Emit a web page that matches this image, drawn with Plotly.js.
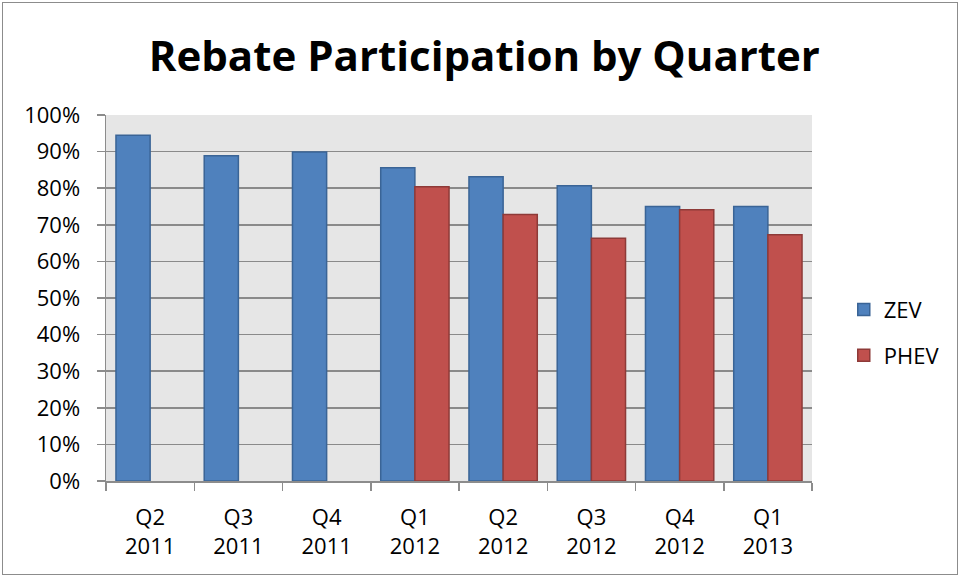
<!DOCTYPE html>
<html>
<head>
<meta charset="utf-8">
<script src="https://cdn.plot.ly/plotly-3.0.1.min.js"></script>
<style>
html,body{margin:0;padding:0;background:#fff;}
#wrap{position:relative;width:961px;height:578px;}
#chart{position:absolute;left:0;top:0;width:961px;height:578px;}
#frame{position:absolute;left:2px;top:2px;width:954px;height:571px;border:1.5px solid #8c8c8c;pointer-events:none;}
</style>
</head>
<body>
<div id="wrap"><div id="chart"></div><div id="frame"></div></div>
<script>
const categories = ["Q2<br>2011","Q3<br>2011","Q4<br>2011","Q1<br>2012","Q2<br>2012","Q3<br>2012","Q4<br>2012","Q1<br>2013"];
const zev  = [0.945, 0.889, 0.899, 0.856, 0.831, 0.807, 0.750, 0.750];
const phev = [null, null, null, 0.804, 0.728, 0.663, 0.741, 0.673];
const yTickVals = [0,0.1,0.2,0.3,0.4,0.5,0.6,0.7,0.8,0.9,1.0];
const yTickText = ["0%","10%","20%","30%","40%","50%","60%","70%","80%","90%","100%"];

const font = "Open Sans, Noto Sans, sans-serif";
const traces = [
  {type:"bar", name:"ZEV", x:categories, y:zev, legendgroup:"a",
   marker:{color:"#4f81bd", line:{color:"#3a6496", width:1.5}}},
  {type:"bar", name:"PHEV", x:categories, y:phev, legendgroup:"b",
   marker:{color:"#c0504d", line:{color:"#8e3a38", width:1.5}}}
];
const layout = {
  width:961, height:578,
  margin:{l:106, r:149, t:115, b:97},
  paper_bgcolor:"#ffffff", plot_bgcolor:"#e6e6e6",
  barmode:"group", bargap:0.226, bargroupgap:0,
  title:{text:"<b>Rebate Participation by Quarter</b>", x:0.504, xanchor:"center", y:0.903, yanchor:"middle",
         font:{family:"Open Sans, sans-serif", size:42, color:"#000"}},
  xaxis:{type:"category", showgrid:false, showline:true, linecolor:"#8c8c8c", linewidth:1.5,
         ticks:"outside", ticklen:8, tickcolor:"#8c8c8c", tickwidth:1.5, tickson:"boundaries",
         ticklabelstandoff:16,
         tickfont:{family:font, size:22, color:"#000"}, fixedrange:true},
  yaxis:{range:[0,1], tickvals:yTickVals, ticktext:yTickText, showgrid:true, gridcolor:"#8a8a8a", gridwidth:1.5,
         showline:true, linecolor:"#8c8c8c", linewidth:1.5, ticks:"outside", ticklen:8, tickcolor:"#8c8c8c", tickwidth:1.5,
         ticklabelstandoff:12, zeroline:false,
         tickfont:{family:font, size:22, color:"#000"}, fixedrange:true},
  legend:{x:1.045, y:0.405, xanchor:"left", yanchor:"middle", traceorder:"grouped", tracegroupgap:14,
          font:{family:font, size:22, color:"#000"}, bgcolor:"rgba(0,0,0,0)"},
  showlegend:true
};
Plotly.newPlot("chart", traces, layout, {staticPlot:true});
</script>
</body>
</html>
